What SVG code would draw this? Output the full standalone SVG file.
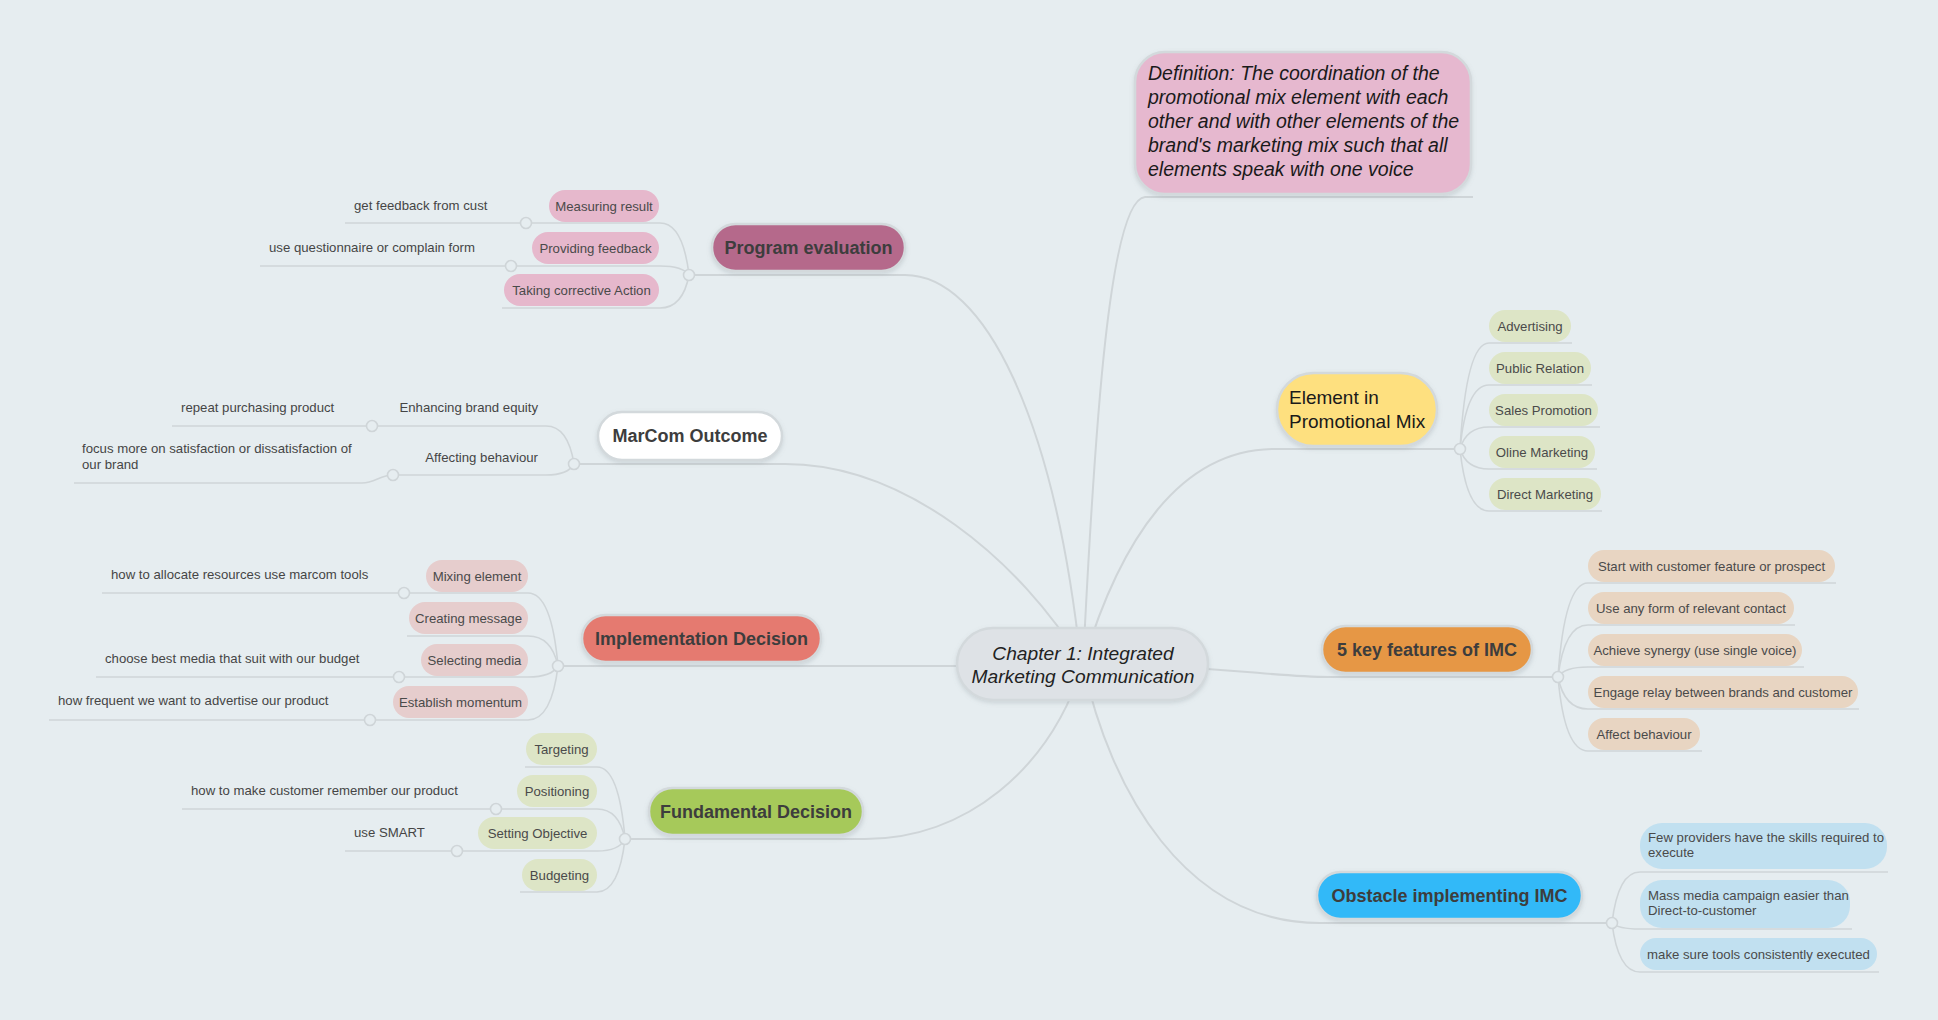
<svg xmlns="http://www.w3.org/2000/svg" width="1938" height="1020" viewBox="0 0 1938 1020">
<defs>
<filter id="sh" x="-10%" y="-20%" width="120%" height="150%">
<feDropShadow dx="0" dy="2" stdDeviation="2" flood-color="#7a8a90" flood-opacity="0.25"/>
</filter>
<style>
text{font-family:"Liberation Sans",Arial,sans-serif}
.ln{fill:none;stroke:#cfd5d8;stroke-width:2}
.sl{fill:none;stroke:#cfd5d8;stroke-width:1.6}
.dot{fill:#e6edf0;stroke:#cfd5d8;stroke-width:1.6}
.mn rect{stroke:#d3d9dc;stroke-width:2.5;filter:url(#sh)}
.mn text{font-weight:bold;font-size:18px;fill:#3d3d3d;text-anchor:middle}
.pl text{font-size:13.2px;fill:#4a4a4a;text-anchor:middle}
.lf{font-size:13.2px;fill:#454545}
.pk rect{fill:#e6b8cc}
.rs rect{fill:#e6cdcd}
.gr rect{fill:#dde5c6}
.bg rect{fill:#e8d5c2}
.bl rect{fill:#c1e0f0}
</style>
</defs>
<rect width="1938" height="1020" fill="#e6edf0"/>

<g id="connectors">
<!-- main branches -->
<path class="ln" d="M689 275 L905 275 C985 275 1055 420 1081 664"/>
<path class="ln" d="M574 464 L785 464 C905 464 1020 560 1083 664"/>
<path class="ln" d="M558 666 L1083 666"/>
<path class="ln" d="M625 839 L865 839 C965 839 1050 770 1083 664"/>
<path class="ln" d="M1473 197 L1145 197 C1110 200 1095 420 1083 664"/>
<path class="ln" d="M1460 449 L1275 449 C1180 449 1120 540 1083 664"/>
<path class="ln" d="M1558 677 L1330 677 C1270 677 1230 666 1083 664"/>
<path class="ln" d="M1612 923 L1320 923 C1185 923 1110 790 1083 664"/>
<!-- program evaluation -->
<path class="sl" d="M345 223 L660 223 C674.5 223 684.7 238.6 689 275"/>
<path class="sl" d="M260 266 L660 266 C674.5 266 684.7 268.7 689 275"/>
<path class="sl" d="M502 308 L660 308 C674.5 308 684.7 298.1 689 275"/>
<!-- marcom -->
<path class="sl" d="M172 426 L546 426 C560 426 569.8 437.4 574 464"/>
<path class="sl" d="M393 475 L546 475 C560 475 569.8 471.7 574 464"/>
<path class="sl" d="M74 483 L362 483 C375 483 380 475 393 475"/>
<!-- implementation -->
<path class="sl" d="M102 593 L528 593 C543 593 553.5 614.9 558 666"/>
<path class="sl" d="M407 636 L528 636 C543 636 553.5 645 558 666"/>
<path class="sl" d="M96 677 L528 677 C543 677 553.5 673.7 558 666"/>
<path class="sl" d="M49 720 L528 720 C543 720 553.5 703.8 558 666"/>
<!-- fundamental -->
<path class="sl" d="M525 767 L597 767 C611 767 620.8 788.6 625 839"/>
<path class="sl" d="M182 809 L597 809 C611 809 620.8 818 625 839"/>
<path class="sl" d="M345 851 L597 851 C611 851 620.8 847.4 625 839"/>
<path class="sl" d="M520 892 L597 892 C611 892 620.8 876.1 625 839"/>
<!-- element -->
<path class="sl" d="M1572 343 L1489 343 C1474.5 343 1464.4 374.8 1460 449"/>
<path class="sl" d="M1592 385 L1489 385 C1474.5 385 1464.4 404.2 1460 449"/>
<path class="sl" d="M1600 427 L1489 427 C1474.5 427 1464.4 433.6 1460 449"/>
<path class="sl" d="M1597 469 L1489 469 C1474.5 469 1464.4 463 1460 449"/>
<path class="sl" d="M1602 511 L1489 511 C1474.5 511 1464.4 492.4 1460 449"/>
<!-- 5 key -->
<path class="sl" d="M1836 583 L1588 583 C1573 583 1562.5 611.2 1558 677"/>
<path class="sl" d="M1795 625 L1588 625 C1573 625 1562.5 640.6 1558 677"/>
<path class="sl" d="M1804 667 L1588 667 C1573 667 1562.5 670 1558 677"/>
<path class="sl" d="M1859 709 L1588 709 C1573 709 1562.5 699.4 1558 677"/>
<path class="sl" d="M1702 751 L1588 751 C1573 751 1562.5 728.8 1558 677"/>
<!-- obstacle -->
<path class="sl" d="M1888 872 L1640 872 C1626 872 1616.2 887.3 1612 923"/>
<path class="sl" d="M1852 929 L1640 929 C1626 929 1616.2 927.2 1612 923"/>
<path class="sl" d="M1879 972 L1640 972 C1626 972 1616.2 957.3 1612 923"/>
<!-- junction dots -->
<circle class="dot" cx="689" cy="275" r="5.5"/>
<circle class="dot" cx="526" cy="223" r="5.5"/>
<circle class="dot" cx="511" cy="266" r="5.5"/>
<circle class="dot" cx="574" cy="464" r="5.5"/>
<circle class="dot" cx="372" cy="426" r="5.5"/>
<circle class="dot" cx="393" cy="475" r="5.5"/>
<circle class="dot" cx="558" cy="666" r="5.5"/>
<circle class="dot" cx="404" cy="593" r="5.5"/>
<circle class="dot" cx="399" cy="677" r="5.5"/>
<circle class="dot" cx="370" cy="720" r="5.5"/>
<circle class="dot" cx="625" cy="839" r="5.5"/>
<circle class="dot" cx="496" cy="809" r="5.5"/>
<circle class="dot" cx="457" cy="851" r="5.5"/>
<circle class="dot" cx="1460" cy="449" r="5.5"/>
<circle class="dot" cx="1558" cy="677" r="5.5"/>
<circle class="dot" cx="1612" cy="923" r="5.5"/>
</g>

<g id="central" class="mn">
<rect x="957" y="628" width="251" height="72" rx="36" fill="#dee2e6"/>
<text x="1083" y="660" style="font-weight:normal;font-style:italic;font-size:19.2px;fill:#222">Chapter 1: Integrated</text>
<text x="1083" y="683" style="font-weight:normal;font-style:italic;font-size:19.2px;fill:#222">Marketing Communication</text>
</g>

<g id="definition" class="mn">
<rect x="1135" y="52" width="336" height="142" rx="30" fill="#e6b8cf"/>
<text x="1148" y="80" style="font-weight:normal;font-style:italic;font-size:19.5px;fill:#1a1a1a;text-anchor:start">Definition: The coordination of the</text>
<text x="1148" y="104" style="font-weight:normal;font-style:italic;font-size:19.5px;fill:#1a1a1a;text-anchor:start">promotional mix element with each</text>
<text x="1148" y="128" style="font-weight:normal;font-style:italic;font-size:19.5px;fill:#1a1a1a;text-anchor:start">other and with other elements of the</text>
<text x="1148" y="152" style="font-weight:normal;font-style:italic;font-size:19.5px;fill:#1a1a1a;text-anchor:start">brand's marketing mix such that all</text>
<text x="1148" y="176" style="font-weight:normal;font-style:italic;font-size:19.5px;fill:#1a1a1a;text-anchor:start">elements speak with one voice</text>
</g>

<g id="program-evaluation" class="mn">
<rect x="712" y="224" width="193" height="47" rx="23.5" fill="#b5698b"/>
<text x="808.5" y="253.5">Program evaluation</text>
</g>
<g id="measuring-result" class="pl pk"><rect x="549" y="190" width="110" height="32" rx="16"/><text x="604" y="211">Measuring result</text></g>
<g id="providing-feedback" class="pl pk"><rect x="532" y="232" width="127" height="32" rx="16"/><text x="595.5" y="253">Providing feedback</text></g>
<g id="taking-corrective-action" class="pl pk"><rect x="504" y="274" width="155" height="32" rx="16"/><text x="581.5" y="295">Taking corrective Action</text></g>
<g id="get-feedback"><text class="lf" x="354" y="210">get feedback from cust</text></g>
<g id="use-questionnaire"><text class="lf" x="269" y="252">use questionnaire or complain form</text></g>

<g id="marcom-outcome" class="mn">
<rect x="598" y="412" width="184" height="48" rx="24" fill="#ffffff"/>
<text x="690" y="442">MarCom Outcome</text>
</g>
<g id="enhancing-brand-equity"><text class="lf" x="538" y="412" text-anchor="end">Enhancing brand equity</text></g>
<g id="affecting-behaviour"><text class="lf" x="538" y="462" text-anchor="end">Affecting behaviour</text></g>
<g id="repeat-purchasing"><text class="lf" x="181" y="412">repeat purchasing product</text></g>
<g id="focus-more"><text class="lf" x="82" y="453">focus more on satisfaction or dissatisfaction of<tspan x="82" y="469">our brand</tspan></text></g>

<g id="implementation-decision" class="mn">
<rect x="582" y="615" width="239" height="47" rx="23.5" fill="#e57a70"/>
<text x="701.5" y="644.5">Implementation Decision</text>
</g>
<g id="mixing-element" class="pl rs"><rect x="426" y="560" width="102" height="32" rx="16"/><text x="477" y="581">Mixing element</text></g>
<g id="creating-message" class="pl rs"><rect x="409" y="602" width="119" height="32" rx="16"/><text x="468.5" y="623">Creating message</text></g>
<g id="selecting-media" class="pl rs"><rect x="421" y="644" width="107" height="32" rx="16"/><text x="474.5" y="665">Selecting media</text></g>
<g id="establish-momentum" class="pl rs"><rect x="393" y="686" width="135" height="32" rx="16"/><text x="460.5" y="707">Establish momentum</text></g>
<g id="allocate-resources"><text class="lf" x="111" y="579">how to allocate resources use marcom tools</text></g>
<g id="choose-best-media"><text class="lf" x="105" y="663">choose best media that suit with our budget</text></g>
<g id="how-frequent"><text class="lf" x="58" y="705">how frequent we want to advertise our product</text></g>

<g id="fundamental-decision" class="mn">
<rect x="649" y="788" width="214" height="47" rx="23.5" fill="#a6c95a"/>
<text x="756" y="817.5">Fundamental Decision</text>
</g>
<g id="targeting" class="pl gr"><rect x="526" y="733" width="71" height="32" rx="16"/><text x="561.5" y="754">Targeting</text></g>
<g id="positioning" class="pl gr"><rect x="517" y="775" width="80" height="32" rx="16"/><text x="557" y="796">Positioning</text></g>
<g id="setting-objective" class="pl gr"><rect x="478" y="817" width="119" height="32" rx="16"/><text x="537.5" y="838">Setting Objective</text></g>
<g id="budgeting" class="pl gr"><rect x="522" y="859" width="75" height="32" rx="16"/><text x="559.5" y="880">Budgeting</text></g>
<g id="remember-product"><text class="lf" x="191" y="795">how to make customer remember our product</text></g>
<g id="use-smart"><text class="lf" x="354" y="837">use SMART</text></g>

<g id="element-promotional-mix" class="mn">
<rect x="1277" y="373" width="160" height="73" rx="36.5" fill="#fee07f"/>
<text x="1289" y="404" style="font-weight:normal;font-size:19px;fill:#1a1a1a;text-anchor:start">Element in</text>
<text x="1289" y="428" style="font-weight:normal;font-size:19px;fill:#1a1a1a;text-anchor:start">Promotional Mix</text>
</g>
<g id="advertising" class="pl gr"><rect x="1489" y="310" width="82" height="32" rx="16"/><text x="1530" y="331">Advertising</text></g>
<g id="public-relation" class="pl gr"><rect x="1489" y="352" width="102" height="32" rx="16"/><text x="1540" y="373">Public Relation</text></g>
<g id="sales-promotion" class="pl gr"><rect x="1489" y="394" width="109" height="32" rx="16"/><text x="1543.5" y="415">Sales Promotion</text></g>
<g id="oline-marketing" class="pl gr"><rect x="1489" y="436" width="106" height="32" rx="16"/><text x="1542" y="457">Oline Marketing</text></g>
<g id="direct-marketing" class="pl gr"><rect x="1489" y="478" width="112" height="32" rx="16"/><text x="1545" y="499">Direct Marketing</text></g>

<g id="key-features" class="mn">
<rect x="1322" y="626" width="210" height="47" rx="23.5" fill="#e69745"/>
<text x="1427" y="655.5">5 key features of IMC</text>
</g>
<g id="start-with-customer" class="pl bg"><rect x="1588" y="550" width="247" height="32" rx="16"/><text x="1711.5" y="571">Start with customer feature or prospect</text></g>
<g id="use-any-form" class="pl bg"><rect x="1588" y="592" width="206" height="32" rx="16"/><text x="1691" y="613">Use any form of relevant contact</text></g>
<g id="achieve-synergy" class="pl bg"><rect x="1588" y="634" width="214" height="32" rx="16"/><text x="1695" y="655">Achieve synergy (use single voice)</text></g>
<g id="engage-relay" class="pl bg"><rect x="1588" y="676" width="270" height="32" rx="16"/><text x="1723" y="697">Engage relay between brands and customer</text></g>
<g id="affect-behaviour" class="pl bg"><rect x="1588" y="718" width="112" height="32" rx="16"/><text x="1644" y="739">Affect behaviour</text></g>

<g id="obstacle-imc" class="mn">
<rect x="1317" y="872" width="265" height="47" rx="23.5" fill="#30b9f8"/>
<text x="1449.5" y="901.5">Obstacle implementing IMC</text>
</g>
<g id="few-providers" class="pl bl"><rect x="1640" y="823" width="247" height="46" rx="22"/><text x="1648" y="842" style="text-anchor:start">Few providers have the skills required to<tspan x="1648" y="857">execute</tspan></text></g>
<g id="mass-media" class="pl bl"><rect x="1640" y="880" width="210" height="48" rx="22"/><text x="1648" y="900" style="text-anchor:start">Mass media campaign easier than<tspan x="1648" y="915">Direct-to-customer</tspan></text></g>
<g id="make-sure-tools" class="pl bl"><rect x="1640" y="938" width="237" height="32" rx="16"/><text x="1758.5" y="958.5">make sure tools consistently executed</text></g>
</svg>
